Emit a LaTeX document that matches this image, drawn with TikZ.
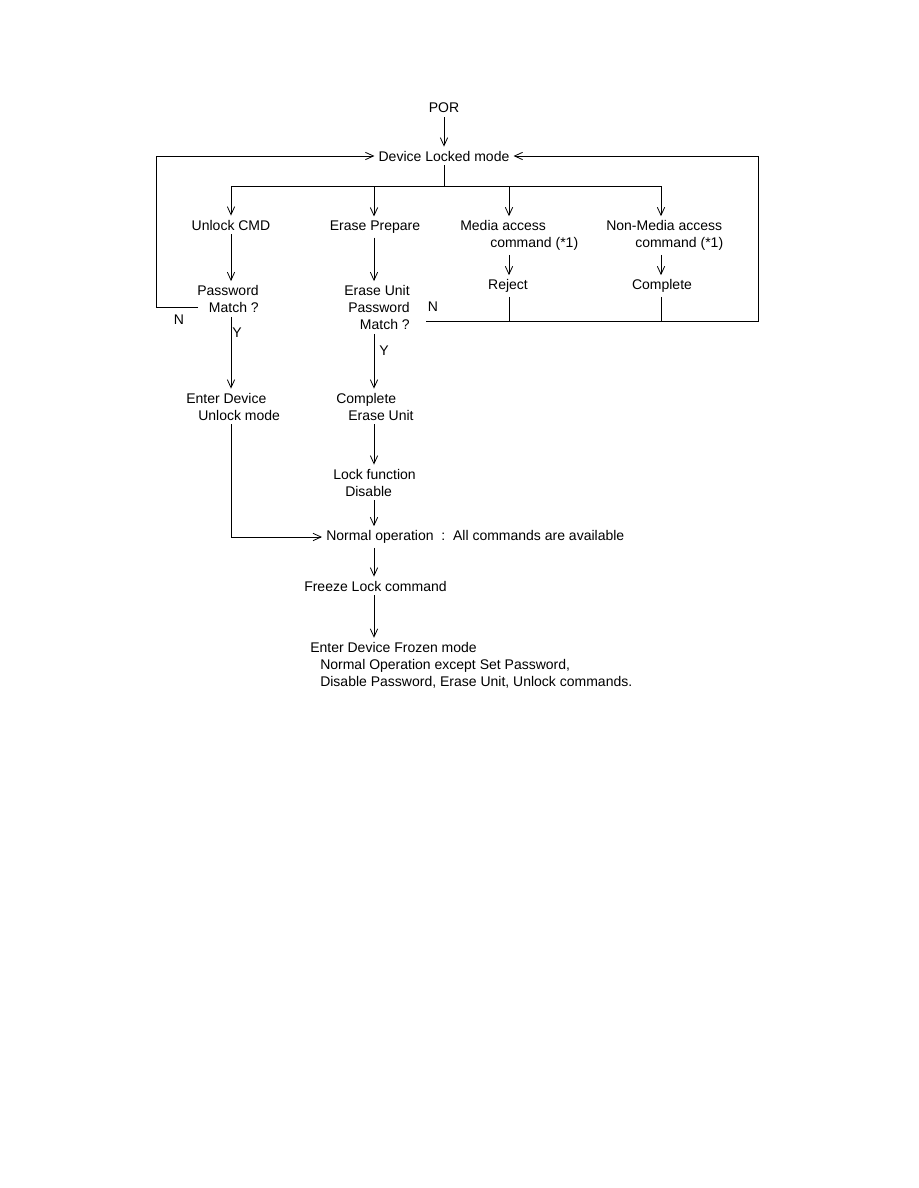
\documentclass[tikz,border=0pt]{standalone}
\usepackage{fontspec}
\setmainfont{Liberation Sans}
\usetikzlibrary{arrows.meta}
\begin{document}
\begin{tikzpicture}[x=0.75pt,y=-0.75pt,
    every node/.style={font=\fontsize{10.5}{12.75}\selectfont,inner sep=3pt},
    flow/.style={line width=0.6pt,-{Straight Barb[length=6pt,width=5.5pt]}},
    link/.style={line width=0.6pt}]
  \useasboundingbox (0,0) rectangle (918,1188);
  \node (por) at (444,108) {POR};
  \node (locked) at (444,156) {Device Locked mode};
  \coordinate (split) at (444,186);
  \coordinate (c1) at (231,186);
  \coordinate (c2) at (374,186);
  \coordinate (c3) at (509,186);
  \coordinate (c4) at (661,186);
  \node (unlock) at (231,225) {Unlock CMD};
  \node (prep) at (375,227) {Erase Prepare};
  \node[anchor=west,align=left] (media) at (456,235.5) {Media access\\\hspace*{22.5pt}command (*1)};
  \node[anchor=west,align=left] (nonmedia) at (602,235.5) {Non-Media access\\\hspace*{21.75pt}command (*1)};
  \node (reject) at (508,286) {Reject};
  \node (done) at (662,286) {Complete};
  \node[anchor=east,align=right] (pw) at (263,299) {Password\\Match ?};
  \node[anchor=east,align=right] (erm) at (414,307.5) {Erase Unit\\Password\\Match ?};
  \node (nl) at (179,320) {N};
  \node (nr) at (433,307) {N};
  \node (yl) at (237,333) {Y};
  \node (yr) at (384,351) {Y};
  \node[anchor=west,align=left] (enter) at (182,406.5) {Enter Device\\\hspace*{9pt}Unlock mode};
  \node[anchor=west,align=left] (erased) at (332,406.5) {Complete\\\hspace*{9pt}Erase Unit};
  \node[anchor=west,align=left] (lockf) at (329,482.5) {Lock function\\\hspace*{9pt}Disable};
  \node[anchor=west] (normal) at (322,537) {Normal operation\ \ :\ \ All commands are available};
  \node[anchor=west] (freeze) at (300,586) {Freeze Lock command};
  \node[anchor=west,align=left] (frozen) at (306,665) {Enter Device Frozen mode\\\hspace*{7.5pt}Normal Operation except Set Password,\\\hspace*{7.5pt}Disable Password, Erase Unit, Unlock commands.};
  \coordinate (pwn) at (198,307);
  \coordinate (lloop) at (156,307);
  \coordinate (ermn) at (426,321);
  \coordinate (rloop) at (758,321);
  \draw[flow] (por) -- (locked);
  \draw[link] (locked) -- (split);
  \draw[link] (c1) -- (c4);
  \draw[flow] (c1) -- (c1 |- unlock.north);
  \draw[flow] (c2) -- (c2 |- prep.north);
  \draw[flow] (c3) -- (c3 |- media.north);
  \draw[flow] (c4) -- (c4 |- nonmedia.north);
  \draw[flow] (c1 |- unlock.south) -- (c1 |- pw.north);
  \draw[flow] (c2 |- prep.south) -- (c2 |- erm.north);
  \draw[flow] (c3 |- media.south) -- (c3 |- reject.north);
  \draw[flow] (c4 |- nonmedia.south) -- (c4 |- done.north);
  \draw[flow] (pwn) -- (lloop) -- (lloop |- locked) -- (locked.west);
  \draw[flow] (ermn) -- (rloop) -- (rloop |- locked) -- (locked.east);
  \draw[link] (c3 |- reject.south) -- (c3 |- rloop);
  \draw[link] (c4 |- done.south) -- (c4 |- rloop);
  \draw[flow] (c1 |- pw.south) -- (c1 |- enter.north);
  \draw[flow] (c2 |- erm.south) -- (c2 |- erased.north);
  \draw[flow] (c2 |- erased.south) -- (c2 |- lockf.north);
  \draw[flow] (c2 |- lockf.south) -- (c2 |- normal.north);
  \draw[flow] (c1 |- enter.south) -- (c1 |- normal) -- (normal.west);
  \draw[flow] (c2 |- normal.south) -- (c2 |- freeze.north);
  \draw[flow] (c2 |- freeze.south) -- (c2 |- frozen.north);
\end{tikzpicture}
\end{document}
